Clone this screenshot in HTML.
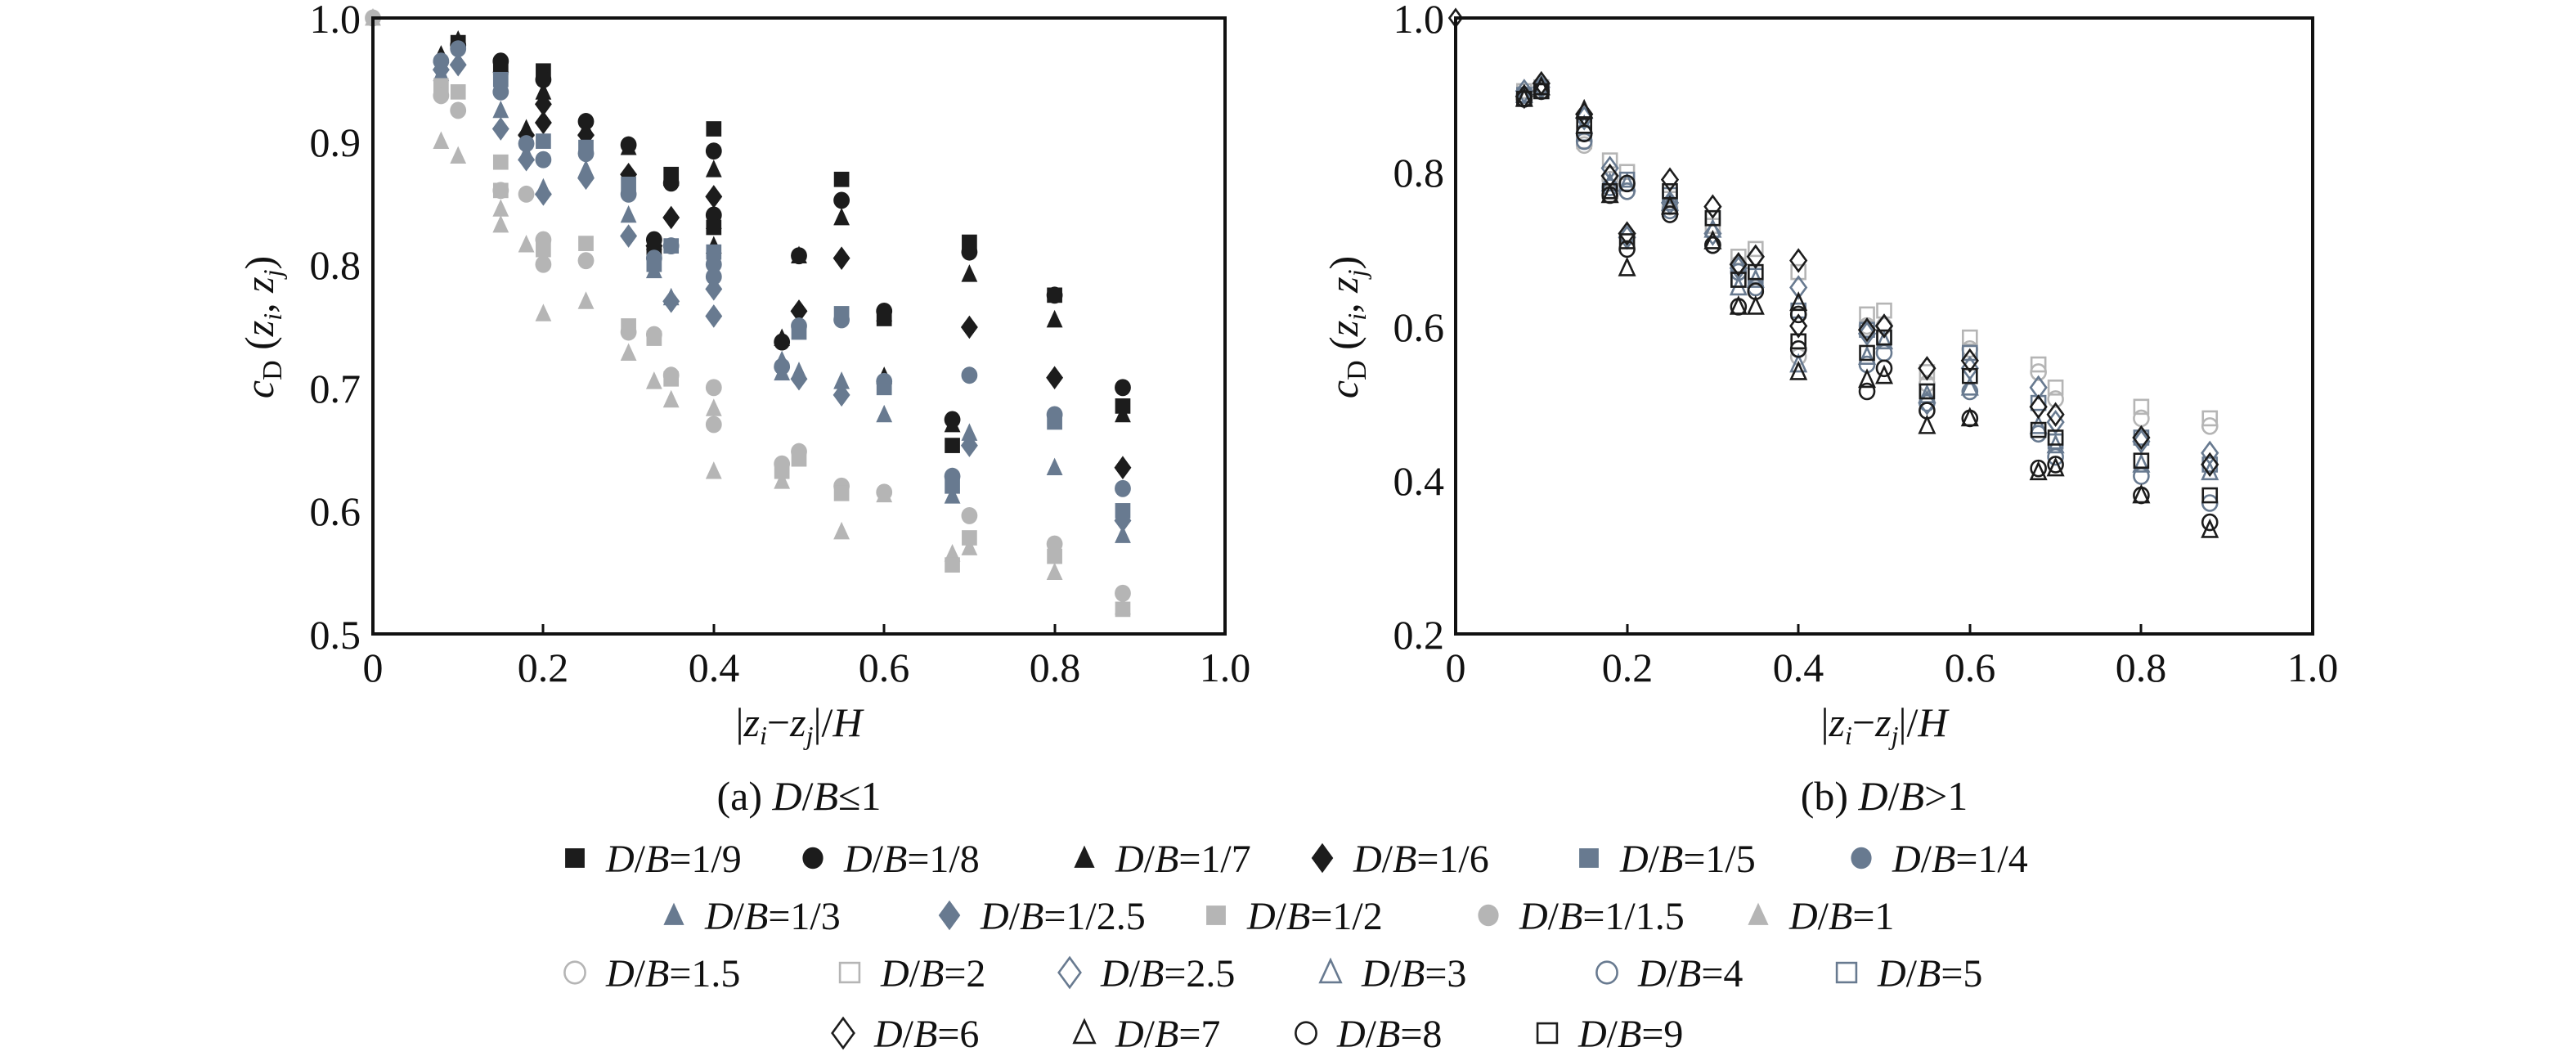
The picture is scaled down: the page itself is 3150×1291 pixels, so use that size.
<!DOCTYPE html>
<html><head><meta charset="utf-8"><style>
html,body{margin:0;padding:0;background:#fff;}
svg{display:block;}
text{font-family:"Liberation Serif",serif;fill:#111;}
</style></head><body>
<svg id="s" xmlns="http://www.w3.org/2000/svg" width="3150" height="1291" viewBox="0 0 3150 1291">
<rect width="3150" height="1291" fill="#fff"/>
<g id="pts"></g>
<rect x="456" y="22" width="1042" height="753" fill="none" stroke="#111" stroke-width="4"/>
<g stroke="#111" stroke-width="3">
<line x1="664" y1="775" x2="664" y2="763"/><line x1="873" y1="775" x2="873" y2="763"/><line x1="1081" y1="775" x2="1081" y2="763"/><line x1="1290" y1="775" x2="1290" y2="763"/>
</g>
<g font-size="50" text-anchor="end">
<text x="441" y="793">0.5</text><text x="441" y="642">0.6</text><text x="441" y="492">0.7</text><text x="441" y="341">0.8</text><text x="441" y="191">0.9</text><text x="441" y="40">1.0</text>
</g>
<g font-size="50" text-anchor="middle">
<text x="456" y="833">0</text><text x="664" y="833">0.2</text><text x="873" y="833">0.4</text><text x="1081" y="833">0.6</text><text x="1290" y="833">0.8</text><text x="1498" y="833">1.0</text>
</g>
<text x="977" y="900" font-size="50" text-anchor="middle">|<tspan font-style="italic">z</tspan><tspan font-style="italic" font-size="32" dy="10">i</tspan><tspan dy="-10">−</tspan><tspan font-style="italic">z</tspan><tspan font-style="italic" font-size="32" dy="10">j</tspan><tspan dy="-10">|/</tspan><tspan font-style="italic">H</tspan></text>
<text x="977" y="990" font-size="50" text-anchor="middle">(a) <tspan font-style="italic">D</tspan>/<tspan font-style="italic">B</tspan>≤1</text>
<text transform="translate(334,400) rotate(-90)" font-size="50" text-anchor="middle"><tspan font-style="italic">c</tspan><tspan font-size="34" dy="10">D</tspan><tspan dy="-10"> (</tspan><tspan font-style="italic">z</tspan><tspan font-style="italic" font-size="32" dy="10">i</tspan><tspan dy="-10">, </tspan><tspan font-style="italic">z</tspan><tspan font-style="italic" font-size="32" dy="10">j</tspan><tspan dy="-10">)</tspan></text>
<rect x="1780" y="22" width="1048" height="753" fill="none" stroke="#111" stroke-width="4"/>
<g stroke="#111" stroke-width="3">
<line x1="1990" y1="775" x2="1990" y2="763"/><line x1="2199" y1="775" x2="2199" y2="763"/><line x1="2409" y1="775" x2="2409" y2="763"/><line x1="2618" y1="775" x2="2618" y2="763"/>
</g>
<g font-size="50" text-anchor="end">
<text x="1766" y="793">0.2</text><text x="1766" y="605">0.4</text><text x="1766" y="417">0.6</text><text x="1766" y="228">0.8</text><text x="1766" y="40">1.0</text>
</g>
<g font-size="50" text-anchor="middle">
<text x="1780" y="833">0</text><text x="1990" y="833">0.2</text><text x="2199" y="833">0.4</text><text x="2409" y="833">0.6</text><text x="2618" y="833">0.8</text><text x="2828" y="833">1.0</text>
</g>
<text x="2304" y="900" font-size="50" text-anchor="middle">|<tspan font-style="italic">z</tspan><tspan font-style="italic" font-size="32" dy="10">i</tspan><tspan dy="-10">−</tspan><tspan font-style="italic">z</tspan><tspan font-style="italic" font-size="32" dy="10">j</tspan><tspan dy="-10">|/</tspan><tspan font-style="italic">H</tspan></text>
<text x="2304" y="990" font-size="50" text-anchor="middle">(b) <tspan font-style="italic">D</tspan>/<tspan font-style="italic">B</tspan>&gt;1</text>
<text transform="translate(1660,400) rotate(-90)" font-size="50" text-anchor="middle"><tspan font-style="italic">c</tspan><tspan font-size="34" dy="10">D</tspan><tspan dy="-10"> (</tspan><tspan font-style="italic">z</tspan><tspan font-style="italic" font-size="32" dy="10">i</tspan><tspan dy="-10">, </tspan><tspan font-style="italic">z</tspan><tspan font-style="italic" font-size="32" dy="10">j</tspan><tspan dy="-10">)</tspan></text>
<g font-size="48">
<text x="741" y="1066"><tspan font-style="italic">D</tspan>/<tspan font-style="italic">B</tspan>=1/9</text>
<text x="1032" y="1066"><tspan font-style="italic">D</tspan>/<tspan font-style="italic">B</tspan>=1/8</text>
<text x="1364" y="1066"><tspan font-style="italic">D</tspan>/<tspan font-style="italic">B</tspan>=1/7</text>
<text x="1655" y="1066"><tspan font-style="italic">D</tspan>/<tspan font-style="italic">B</tspan>=1/6</text>
<text x="1981" y="1066"><tspan font-style="italic">D</tspan>/<tspan font-style="italic">B</tspan>=1/5</text>
<text x="2314" y="1066"><tspan font-style="italic">D</tspan>/<tspan font-style="italic">B</tspan>=1/4</text>
<text x="862" y="1136"><tspan font-style="italic">D</tspan>/<tspan font-style="italic">B</tspan>=1/3</text>
<text x="1199" y="1136"><tspan font-style="italic">D</tspan>/<tspan font-style="italic">B</tspan>=1/2.5</text>
<text x="1525" y="1136"><tspan font-style="italic">D</tspan>/<tspan font-style="italic">B</tspan>=1/2</text>
<text x="1858" y="1136"><tspan font-style="italic">D</tspan>/<tspan font-style="italic">B</tspan>=1/1.5</text>
<text x="2188" y="1136"><tspan font-style="italic">D</tspan>/<tspan font-style="italic">B</tspan>=1</text>
<text x="741" y="1206"><tspan font-style="italic">D</tspan>/<tspan font-style="italic">B</tspan>=1.5</text>
<text x="1077" y="1206"><tspan font-style="italic">D</tspan>/<tspan font-style="italic">B</tspan>=2</text>
<text x="1346" y="1206"><tspan font-style="italic">D</tspan>/<tspan font-style="italic">B</tspan>=2.5</text>
<text x="1665" y="1206"><tspan font-style="italic">D</tspan>/<tspan font-style="italic">B</tspan>=3</text>
<text x="2003" y="1206"><tspan font-style="italic">D</tspan>/<tspan font-style="italic">B</tspan>=4</text>
<text x="2296" y="1206"><tspan font-style="italic">D</tspan>/<tspan font-style="italic">B</tspan>=5</text>
<text x="1069" y="1280"><tspan font-style="italic">D</tspan>/<tspan font-style="italic">B</tspan>=6</text>
<text x="1364" y="1280"><tspan font-style="italic">D</tspan>/<tspan font-style="italic">B</tspan>=7</text>
<text x="1635" y="1280"><tspan font-style="italic">D</tspan>/<tspan font-style="italic">B</tspan>=8</text>
<text x="1930" y="1280"><tspan font-style="italic">D</tspan>/<tspan font-style="italic">B</tspan>=9</text>
</g>
</svg>
<script>
(function(){
var NS="http://www.w3.org/2000/svg",g=document.getElementById("pts");
var K="#1c1c1c",BG="#687a90",LG="#b5b5b5";
function mk(t,x,y,r,col,open){
  var e;
  if(t=="s"){e=document.createElementNS(NS,"rect");e.setAttribute("x",x-r*0.85);e.setAttribute("y",y-r*0.85);e.setAttribute("width",r*1.7);e.setAttribute("height",r*1.7);}
  else if(t=="c"){e=document.createElementNS(NS,"ellipse");e.setAttribute("cx",x);e.setAttribute("cy",y);e.setAttribute("rx",r*0.9);e.setAttribute("ry",r*0.95);}
  else if(t=="t"){e=document.createElementNS(NS,"polygon");e.setAttribute("points",(x)+","+(y-r*1.1)+" "+(x-r*0.9)+","+(y+r*0.85)+" "+(x+r*0.9)+","+(y+r*0.85));}
  else {e=document.createElementNS(NS,"polygon");e.setAttribute("points",x+","+(y-r*1.3)+" "+(x+r*0.95)+","+y+" "+x+","+(y+r*1.3)+" "+(x-r*0.95)+","+y);}
  if(open){e.setAttribute("fill","none");e.setAttribute("stroke",col);e.setAttribute("stroke-width","2.6");}
  else e.setAttribute("fill",col);
  g.appendChild(e);
}
function LX(v){return 456+v*1042;} function LY(c){return 775-(c-0.5)/0.5*753;}
function RX(v){return 1780+v*1048;} function RY(c){return 775-(c-0.2)/0.8*753;}
var C={k:K,b:BG,g:LG};
var L=[
[0,[["t","g",1.0],["c","g",1.0]]],
[0.08,[["t","k",0.970],["c","b",0.965],["t","b",0.955],["d","b",0.958],["s","g",0.945],["c","g",0.937],["t","g",0.9]]],
[0.1,[["s","k",0.98],["t","k",0.982],["c","k",0.978],["c","b",0.975],["d","b",0.962],["s","g",0.94],["c","g",0.925],["t","g",0.888]]],
[0.15,[["c","k",0.965],["t","k",0.962],["s","k",0.96],["s","b",0.95],["c","b",0.94],["t","b",0.925],["d","b",0.91],["s","g",0.883],["c","g",0.86],["s","g",0.86],["t","g",0.845],["t","g",0.832]]],
[0.18,[["t","k",0.91],["d","k",0.905],["c","b",0.898],["t","b",0.89],["d","b",0.885],["c","g",0.857],["t","g",0.816]]],
[0.2,[["s","k",0.957],["c","k",0.95],["t","k",0.94],["d","k",0.93],["d","k",0.915],["s","b",0.9],["c","b",0.885],["t","b",0.862],["d","b",0.857],["c","g",0.82],["s","g",0.812],["c","g",0.8],["t","g",0.76]]],
[0.25,[["c","k",0.916],["t","k",0.91],["d","k",0.905],["s","b",0.895],["c","b",0.89],["t","b",0.877],["d","b",0.87],["s","g",0.817],["c","g",0.803],["t","g",0.77]]],
[0.3,[["c","k",0.897],["t","k",0.895],["d","k",0.873],["s","b",0.865],["c","b",0.857],["t","b",0.84],["d","b",0.823],["s","g",0.75],["c","g",0.745],["t","g",0.728]]],
[0.33,[["c","k",0.82],["t","k",0.818],["d","k",0.815],["s","k",0.81],["c","b",0.805],["s","b",0.8],["t","b",0.795],["c","g",0.743],["s","g",0.74],["t","g",0.705]]],
[0.35,[["s","k",0.873],["t","k",0.87],["c","k",0.866],["d","k",0.838],["c","b",0.815],["s","b",0.815],["t","b",0.773],["d","b",0.77],["c","g",0.71],["s","g",0.707],["t","g",0.69]]],
[0.4,[["s","k",0.91],["c","k",0.892],["t","k",0.877],["d","k",0.855],["c","k",0.84],["t","k",0.835],["s","k",0.83],["t","k",0.815],["s","b",0.81],["c","b",0.8],["c","b",0.79],["d","b",0.78],["d","b",0.758],["c","g",0.7],["t","g",0.683],["c","g",0.67],["t","g",0.632]]],
[0.48,[["c","k",0.737],["t","k",0.74],["t","b",0.722],["c","b",0.717],["t","b",0.712],["c","g",0.638],["s","g",0.632],["t","g",0.624]]],
[0.5,[["c","k",0.807],["t","k",0.807],["d","k",0.762],["c","b",0.75],["s","b",0.745],["t","b",0.713],["d","b",0.707],["c","g",0.648],["s","g",0.642]]],
[0.55,[["s","k",0.869],["c","k",0.852],["t","k",0.838],["d","k",0.805],["s","b",0.76],["c","b",0.755],["t","b",0.705],["d","b",0.694],["c","g",0.62],["s","g",0.614],["t","g",0.583]]],
[0.6,[["c","k",0.762],["t","k",0.76],["s","k",0.756],["t","k",0.709],["c","b",0.705],["s","b",0.7],["t","b",0.678],["c","g",0.615],["t","g",0.613]]],
[0.68,[["c","k",0.674],["t","k",0.67],["s","k",0.653],["c","b",0.628],["s","b",0.62],["t","b",0.612],["t","g",0.565],["s","g",0.556]]],
[0.7,[["s","k",0.818],["c","k",0.81],["t","k",0.792],["d","k",0.749],["c","b",0.71],["t","b",0.663],["d","b",0.653],["c","g",0.596],["s","g",0.578],["t","g",0.57]]],
[0.8,[["c","k",0.775],["s","k",0.775],["t","k",0.755],["d","k",0.708],["c","b",0.678],["s","b",0.672],["t","b",0.635],["c","g",0.573],["s","g",0.563],["t","g",0.55]]],
[0.88,[["c","k",0.7],["s","k",0.685],["t","k",0.678],["d","k",0.635],["c","b",0.618],["s","b",0.6],["d","b",0.592],["t","b",0.58],["c","g",0.533],["t","g",0.522],["s","g",0.52]]]
];
L.forEach(function(col){col[1].forEach(function(p){mk(p[0],LX(col[0]),LY(p[2]),11,C[p[1]],false);});});
var RS=[["c",LG],["s",LG],["d",BG],["t",BG],["c",BG],["s",BG],["d",K],["t",K],["c",K],["s",K]];
var R=[
[0.08,[0.9,0.905,0.905,0.9,0.9,0.9,0.898,0.895,0.895,0.895]],
[0.1,[0.905,0.91,0.91,0.91,0.91,0.905,0.915,0.91,0.905,0.905]],
[0.15,[0.835,0.84,0.87,0.86,0.84,0.85,0.875,0.88,0.85,0.86]],
[0.18,[0.79,0.815,0.805,0.785,0.78,0.775,0.795,0.77,0.77,0.775]],
[0.2,[0.775,0.8,0.715,0.785,0.775,0.79,0.72,0.675,0.7,0.71]],
[0.25,[0.755,0.765,0.76,0.76,0.75,0.77,0.79,0.755,0.745,0.775]],
[0.3,[0.705,0.73,0.72,0.725,0.705,0.74,0.755,0.71,0.705,0.74]],
[0.33,[0.68,0.69,0.675,0.65,0.67,0.66,0.68,0.625,0.625,0.66]],
[0.35,[0.65,0.7,0.69,0.66,0.65,0.665,0.69,0.625,0.645,0.67]],
[0.4,[0.56,0.67,0.65,0.55,0.57,0.62,0.685,0.54,0.615,0.58]],
[0.48,[0.6,0.615,0.59,0.56,0.55,0.595,0.595,0.53,0.515,0.565]],
[0.5,[0.6,0.62,0.6,0.58,0.565,0.585,0.6,0.535,0.545,0.585]],
[0.55,[0.525,0.54,0.5,0.51,0.5,0.515,0.545,0.47,0.49,0.515]],
[0.6,[0.57,0.585,0.545,0.52,0.515,0.565,0.555,0.48,0.48,0.535]],
[0.68,[0.54,0.55,0.52,0.47,0.46,0.5,0.495,0.41,0.415,0.465]],
[0.7,[0.505,0.52,0.475,0.445,0.43,0.45,0.485,0.415,0.42,0.455]],
[0.8,[0.48,0.495,0.45,0.42,0.405,0.455,0.455,0.38,0.38,0.425]],
[0.88,[0.47,0.48,0.435,0.41,0.37,0.42,0.42,0.335,0.345,0.38]]
];
R.forEach(function(col){col[1].forEach(function(v,i){mk(RS[i][0],RX(col[0]),RY(v),10,RS[i][1],true);});});
[["d",K,0.6],["t",K,0.63],["c",K,0.57],["c",K,0.785]].forEach(function(p,i){mk(p[0],RX(i<3?0.4:0.2),RY(p[2]),10,p[1],true);});
mk("d",RX(0),RY(1.0),8,K,true);
var LG1=[[703,1049,"s",K,0],[994,1049,"c",K,0],[1326,1049,"t",K,0],[1617,1049,"d",K,0],[1943,1049,"s",BG,0],[2276,1049,"c",BG,0],
[824,1119,"t",BG,0],[1161,1119,"d",BG,0],[1487,1119,"s",LG,0],[1820,1119,"c",LG,0],[2150,1119,"t",LG,0],
[703,1189,"c",LG,1],[1039,1189,"s",LG,1],[1308,1189,"d",BG,1],[1627,1189,"t",BG,1],[1965,1189,"c",BG,1],[2258,1189,"s",BG,1],
[1031,1263,"d",K,1],[1326,1263,"t",K,1],[1597,1263,"c",K,1],[1892,1263,"s",K,1]];
LG1.forEach(function(m){mk(m[2],m[0],m[1],14,m[3],!!m[4]);});
})();
</script>
</body></html>
